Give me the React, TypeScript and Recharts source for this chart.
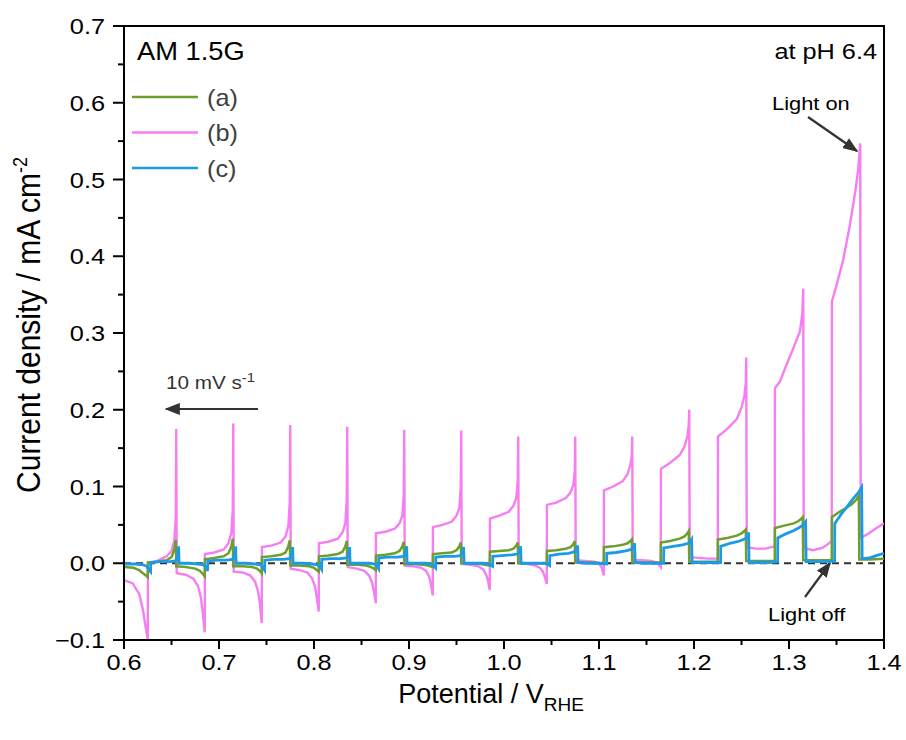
import React from 'react'
import { LineChart, Line, XAxis, YAxis, ReferenceLine, Customized } from 'recharts'

// chopped-light LSV, scan 1.4 -> 0.6 V at 10 mV/s
type Pt = [number, number]

// (a) green
const seriesA: Pt[] = [
  [0.600,-0.005],[0.610,-0.006],[0.616,-0.009],[0.620,-0.013],[0.623,-0.016],[0.625,-0.018],
  [0.6252,0.001],[0.635,0.002],[0.645,0.004],[0.650,0.008],[0.653,0.018],[0.6545,0.030],[0.655,-0.004],
  [0.665,-0.005],[0.675,-0.007],[0.680,-0.010],[0.683,-0.014],[0.685,-0.017],
  [0.6852,0.005],[0.695,0.007],[0.705,0.009],[0.710,0.013],[0.713,0.022],[0.7145,0.032],[0.715,-0.004],
  [0.725,-0.004],[0.735,-0.005],[0.740,-0.007],[0.743,-0.010],[0.745,-0.013],
  [0.7452,0.008],[0.755,0.009],[0.765,0.011],[0.770,0.014],[0.773,0.022],[0.7745,0.030],[0.775,-0.003],
  [0.785,-0.003],[0.795,-0.004],[0.800,-0.006],[0.803,-0.009],[0.805,-0.011],
  [0.8052,0.009],[0.815,0.010],[0.825,0.012],[0.830,0.015],[0.833,0.022],[0.8345,0.029],[0.835,-0.002],
  [0.845,-0.002],[0.855,-0.003],[0.860,-0.005],[0.863,-0.007],[0.865,-0.009],
  [0.8652,0.010],[0.875,0.011],[0.885,0.013],[0.890,0.016],[0.893,0.022],[0.8945,0.028],[0.895,-0.001],
  [0.905,-0.001],[0.915,-0.002],[0.920,-0.003],[0.925,-0.005],
  [0.9252,0.012],[0.935,0.013],[0.945,0.014],[0.950,0.017],[0.953,0.022],[0.9545,0.027],[0.955,0.000],
  [0.965,0.000],[0.975,-0.001],[0.980,-0.002],[0.985,-0.003],
  [0.9852,0.015],[0.995,0.016],[1.005,0.017],[1.010,0.019],[1.013,0.023],[1.0145,0.027],[1.015,0.000],
  [1.025,0.000],[1.035,0.000],[1.045,-0.001],
  [1.0452,0.016],[1.055,0.017],[1.065,0.019],[1.070,0.021],[1.073,0.025],[1.0745,0.029],[1.075,0.001],
  [1.085,0.001],[1.095,0.001],[1.105,0.000],
  [1.1052,0.021],[1.115,0.022],[1.125,0.024],[1.130,0.026],[1.133,0.029],[1.1345,0.031],[1.135,0.001],
  [1.145,0.001],[1.155,0.001],[1.165,0.001],
  [1.1652,0.027],[1.175,0.029],[1.185,0.032],[1.190,0.035],[1.193,0.039],[1.1945,0.042],[1.195,0.002],
  [1.205,0.002],[1.215,0.002],[1.225,0.002],
  [1.2252,0.031],[1.235,0.033],[1.245,0.036],[1.250,0.039],[1.253,0.042],[1.2545,0.044],[1.255,0.003],
  [1.265,0.003],[1.275,0.003],[1.285,0.003],
  [1.2852,0.046],[1.295,0.049],[1.305,0.052],[1.310,0.055],[1.313,0.058],[1.3145,0.060],[1.315,0.004],
  [1.325,0.004],[1.335,0.004],[1.345,0.004],
  [1.3452,0.060],[1.352,0.066],[1.360,0.072],[1.366,0.077],[1.371,0.083],[1.3735,0.088],[1.374,0.005],
  [1.385,0.005],[1.400,0.006],
]

// (b) pink
const seriesB: Pt[] = [
  [0.600,-0.022],[0.609,-0.026],[0.616,-0.040],[0.620,-0.061],[0.623,-0.085],[0.625,-0.099],
  [0.6252,0.000],[0.635,0.003],[0.645,0.009],[0.650,0.016],[0.653,0.030],[0.6545,0.060],[0.655,0.175],[0.6555,-0.013],
  [0.665,-0.015],[0.673,-0.020],[0.678,-0.030],[0.681,-0.045],[0.683,-0.065],[0.685,-0.090],
  [0.6852,0.012],[0.695,0.014],[0.705,0.018],[0.710,0.026],[0.713,0.040],[0.7145,0.070],[0.715,0.182],[0.7155,-0.011],
  [0.725,-0.012],[0.733,-0.016],[0.738,-0.024],[0.741,-0.036],[0.743,-0.052],[0.745,-0.078],
  [0.7452,0.021],[0.755,0.023],[0.765,0.027],[0.770,0.035],[0.773,0.048],[0.7745,0.080],[0.775,0.180],[0.7755,-0.007],
  [0.785,-0.009],[0.793,-0.012],[0.798,-0.020],[0.801,-0.030],[0.803,-0.045],[0.805,-0.063],
  [0.8052,0.026],[0.815,0.028],[0.825,0.032],[0.830,0.040],[0.833,0.052],[0.8345,0.085],[0.835,0.178],[0.8355,-0.005],
  [0.845,-0.007],[0.853,-0.010],[0.858,-0.016],[0.861,-0.025],[0.863,-0.036],[0.865,-0.052],
  [0.8652,0.039],[0.875,0.041],[0.885,0.045],[0.890,0.052],[0.893,0.062],[0.8945,0.090],[0.895,0.174],[0.8955,-0.003],
  [0.905,-0.004],[0.913,-0.006],[0.918,-0.010],[0.921,-0.017],[0.923,-0.027],[0.925,-0.042],
  [0.9252,0.047],[0.935,0.050],[0.945,0.054],[0.950,0.062],[0.953,0.072],[0.9545,0.100],[0.955,0.173],[0.9555,-0.001],
  [0.965,-0.002],[0.973,-0.004],[0.978,-0.008],[0.981,-0.014],[0.983,-0.022],[0.985,-0.035],
  [0.9852,0.058],[0.995,0.062],[1.005,0.067],[1.010,0.075],[1.013,0.085],[1.0145,0.110],[1.015,0.165],[1.0155,0.000],
  [1.025,-0.001],[1.033,-0.003],[1.038,-0.006],[1.041,-0.011],[1.043,-0.018],[1.045,-0.027],
  [1.0452,0.076],[1.055,0.079],[1.065,0.085],[1.070,0.092],[1.073,0.102],[1.0745,0.120],[1.075,0.165],[1.0755,0.004],
  [1.085,0.003],[1.095,0.002],[1.100,0.000],[1.103,-0.006],[1.105,-0.016],
  [1.1052,0.095],[1.115,0.100],[1.125,0.107],[1.130,0.116],[1.133,0.128],[1.1345,0.140],[1.135,0.165],[1.1355,0.004],
  [1.145,0.004],[1.155,0.003],[1.161,0.001],[1.165,-0.005],
  [1.1652,0.123],[1.175,0.131],[1.185,0.141],[1.190,0.152],[1.193,0.165],[1.1945,0.180],[1.195,0.200],[1.1955,0.008],
  [1.205,0.007],[1.215,0.006],[1.225,0.006],
  [1.2252,0.165],[1.235,0.175],[1.245,0.188],[1.250,0.203],[1.253,0.218],[1.2545,0.235],[1.255,0.268],[1.2555,0.021],
  [1.265,0.019],[1.275,0.019],[1.285,0.022],
  [1.2852,0.228],[1.2905,0.237],[1.2975,0.259],[1.3045,0.280],[1.3115,0.302],[1.314,0.325],[1.315,0.358],[1.3155,0.020],
  [1.325,0.017],[1.335,0.020],[1.340,0.024],[1.345,0.029],
  [1.3452,0.341],[1.350,0.362],[1.357,0.395],[1.364,0.440],[1.370,0.486],[1.373,0.515],[1.375,0.547],[1.3755,0.033],
  [1.383,0.038],[1.391,0.045],[1.400,0.052],
]

// (c) blue
const seriesC: Pt[] = [
  [0.600,-0.001],[0.612,-0.001],[0.620,-0.002],[0.624,-0.004],[0.626,-0.008],[0.628,-0.011],
  [0.6282,0.001],[0.638,0.002],[0.648,0.002],[0.654,0.003],[0.656,0.006],[0.6575,0.022],[0.658,0.000],
  [0.668,0.000],[0.678,-0.001],[0.684,-0.002],[0.686,-0.005],[0.688,-0.010],
  [0.6882,0.003],[0.698,0.004],[0.708,0.004],[0.714,0.005],[0.716,0.008],[0.7175,0.022],[0.718,0.000],
  [0.728,0.000],[0.738,-0.001],[0.744,-0.002],[0.746,-0.005],[0.748,-0.009],
  [0.7482,0.004],[0.758,0.005],[0.768,0.005],[0.774,0.006],[0.776,0.009],[0.7775,0.021],[0.778,0.000],
  [0.788,0.000],[0.798,-0.001],[0.804,-0.002],[0.806,-0.004],[0.808,-0.008],
  [0.8082,0.005],[0.818,0.006],[0.828,0.006],[0.834,0.007],[0.836,0.010],[0.8375,0.021],[0.838,0.000],
  [0.848,0.000],[0.858,0.000],[0.864,-0.001],[0.866,-0.003],[0.868,-0.007],
  [0.8682,0.007],[0.878,0.008],[0.888,0.008],[0.894,0.009],[0.896,0.012],[0.8975,0.022],[0.898,0.000],
  [0.908,0.000],[0.918,0.000],[0.924,-0.001],[0.926,-0.003],[0.928,-0.006],
  [0.9282,0.008],[0.938,0.009],[0.948,0.009],[0.954,0.010],[0.956,0.013],[0.9575,0.021],[0.958,0.000],
  [0.968,0.000],[0.978,0.000],[0.984,-0.001],[0.988,-0.004],
  [0.9882,0.009],[0.998,0.010],[1.008,0.011],[1.014,0.012],[1.016,0.015],[1.0175,0.022],[1.018,0.000],
  [1.028,0.000],[1.038,0.000],[1.044,0.000],[1.048,-0.003],
  [1.0482,0.010],[1.058,0.012],[1.068,0.013],[1.074,0.015],[1.076,0.018],[1.0775,0.023],[1.078,0.001],
  [1.088,0.000],[1.098,0.000],[1.108,-0.001],
  [1.1082,0.013],[1.118,0.014],[1.128,0.016],[1.134,0.018],[1.136,0.021],[1.1375,0.026],[1.138,0.001],
  [1.148,0.000],[1.158,0.000],[1.168,0.000],
  [1.1682,0.020],[1.178,0.022],[1.188,0.024],[1.194,0.026],[1.196,0.028],[1.1975,0.031],[1.198,0.001],
  [1.208,0.001],[1.218,0.001],[1.228,0.001],
  [1.2282,0.022],[1.238,0.026],[1.248,0.029],[1.254,0.032],[1.256,0.035],[1.2575,0.040],[1.258,0.001],
  [1.268,0.001],[1.278,0.001],[1.288,0.002],
  [1.2882,0.033],[1.296,0.038],[1.304,0.042],[1.310,0.046],[1.315,0.050],[1.3175,0.054],[1.318,0.002],
  [1.328,0.002],[1.338,0.002],[1.348,0.003],
  [1.3482,0.052],[1.355,0.064],[1.362,0.075],[1.368,0.085],[1.373,0.092],[1.3765,0.099],[1.377,0.006],
  [1.385,0.007],[1.392,0.010],[1.400,0.013],
]

const xTicks = [0.6, 0.65, 0.7, 0.75, 0.8, 0.85, 0.9, 0.95, 1.0, 1.05, 1.1, 1.15, 1.2, 1.25, 1.3, 1.35, 1.4]
const yTicks = [-0.1, -0.05, 0, 0.05, 0.1, 0.15, 0.2, 0.25, 0.3, 0.35, 0.4, 0.45, 0.5, 0.55, 0.6, 0.65, 0.7]
const legendLabels = ['(a)', '(b)', '(c)']

const COL_A = '#6E9E2C'
const COL_B = '#F57EF2'
const COL_C = '#1B9AE8'
const FONT = 'Arial, "Liberation Sans", sans-serif'
const SX = 1.15 // text in the figure is stretched a bit horizontally

const toRows = (pts: Pt[]) => pts.map(([x, y]) => ({ x, y }))
const isMajor = (v: number) => Math.abs(v * 10 - Math.round(v * 10)) < 1e-6
const fmt = (v: number) => (v < 0 ? '\u2212' : '') + Math.abs(v).toFixed(1)
const stretch = (x0: number, s = SX) => `translate(${x0},0) scale(${s},1) translate(${-x0},0)`

const XTick = (p: any) => {
  const { x, y, payload } = p
  const major = isMajor(payload.value)
  return (
    <g>
      <line x1={x} x2={x} y1={y} y2={y + (major ? 9 : 5)} stroke="#000" strokeWidth={2} />
      {major && (
        <text transform={`translate(${x},${y + 30}) scale(${SX},1)`} textAnchor="middle" fontSize={22} fill="#000" fontFamily={FONT}>
          {fmt(payload.value)}
        </text>
      )}
    </g>
  )
}

const YTick = (p: any) => {
  const { x, y, payload } = p
  const major = isMajor(payload.value)
  return (
    <g>
      <line x1={x} x2={x - (major ? 11 : 6)} y1={y} y2={y} stroke="#000" strokeWidth={2} />
      {major && (
        <text transform={`translate(${x - 19},${y + 8}) scale(${SX},1)`} textAnchor="end" fontSize={22} fill="#000" fontFamily={FONT}>
          {fmt(payload.value)}
        </text>
      )}
    </g>
  )
}

const Overlay = () => (
  <g fontFamily={FONT}>
    <defs>
      <marker id="ah" viewBox="0 0 10 10" refX="9" refY="5" markerWidth="7" markerHeight="5.5"
        preserveAspectRatio="none" orient="auto-start-reverse">
        <path d="M0,0 L10,5 L0,10 z" fill="#333" />
      </marker>
    </defs>
    <rect x={124} y={26} width={760} height={614} fill="none" stroke="#000" strokeWidth={2} />

    <text x={137} y={60} fontSize={26} fill="#000" transform={stretch(137, 1.05)}>AM 1.5G</text>
    <text x={877} y={59} fontSize={22} fill="#000" textAnchor="end" transform={stretch(877)}>at pH 6.4</text>

    {legendLabels.map((t, i) => (
      <g key={t}>
        <line x1={132} x2={198} y1={97 + i * 35.5} y2={97 + i * 35.5} stroke={[COL_A, COL_B, COL_C][i]} strokeWidth={2.5} />
        <text x={207} y={106 + i * 35.5} fontSize={23} fill="#404040" transform={stretch(207, 1.1)}>{t}</text>
      </g>
    ))}

    <text x={166} y={389} fontSize={18} fill="#333" transform={stretch(166)}>
      10 mV s<tspan dy={-7} fontSize={13}>-1</tspan>
    </text>
    <line x1={258} x2={166} y1={409} y2={409} stroke="#333" strokeWidth={2.2} markerEnd="url(#ah)" />

    <text x={772} y={110} fontSize={19} fill="#000" transform={stretch(772)}>Light on</text>
    <line x1={808} y1={117} x2={857} y2={151} stroke="#333" strokeWidth={2.2} markerEnd="url(#ah)" />

    <text x={768} y={621} fontSize={19} fill="#000" transform={stretch(768)}>Light off</text>
    <line x1={805} y1={597} x2={830} y2={563} stroke="#333" strokeWidth={2.2} markerEnd="url(#ah)" />

    <text transform={`translate(40,325) rotate(-90) scale(1,1.1)`} textAnchor="middle" fontSize={30} fill="#000">
      Current density / mA cm<tspan dy={-12} fontSize={18}>-2</tspan>
    </text>
    <text x={491} y={703} textAnchor="middle" fontSize={27} fill="#000">
      Potential / V<tspan dy={8} fontSize={19}>RHE</tspan>
    </text>
  </g>
)

export default function App() {
  return (
    <div style={{ position: 'absolute', left: 0, top: 0, width: 906, height: 740, background: '#fff' }}>
      <LineChart width={906} height={740} margin={{ top: 26, right: 22, bottom: 40, left: 64 }}>
        <XAxis dataKey="x" type="number" domain={[0.6, 1.4]} ticks={xTicks} allowDataOverflow
          height={60} tickSize={0} tickMargin={0} tickLine={false} tick={<XTick />}
          axisLine={{ stroke: '#000', strokeWidth: 2 }} />
        <YAxis type="number" domain={[-0.1, 0.7]} ticks={yTicks} allowDataOverflow
          width={60} tickSize={0} tickMargin={0} tickLine={false} tick={<YTick />}
          axisLine={{ stroke: '#000', strokeWidth: 2 }} />
        <ReferenceLine y={0} stroke="#333" strokeWidth={2} strokeDasharray="7 5" />
        <Line data={toRows(seriesB)} dataKey="y" type="linear" dot={false} stroke={COL_B} strokeWidth={2.4} isAnimationActive={false} />
        <Line data={toRows(seriesA)} dataKey="y" type="linear" dot={false} stroke={COL_A} strokeWidth={2.5} isAnimationActive={false} />
        <Line data={toRows(seriesC)} dataKey="y" type="linear" dot={false} stroke={COL_C} strokeWidth={2.8} isAnimationActive={false} />
        <Customized component={Overlay} />
      </LineChart>
    </div>
  )
}
